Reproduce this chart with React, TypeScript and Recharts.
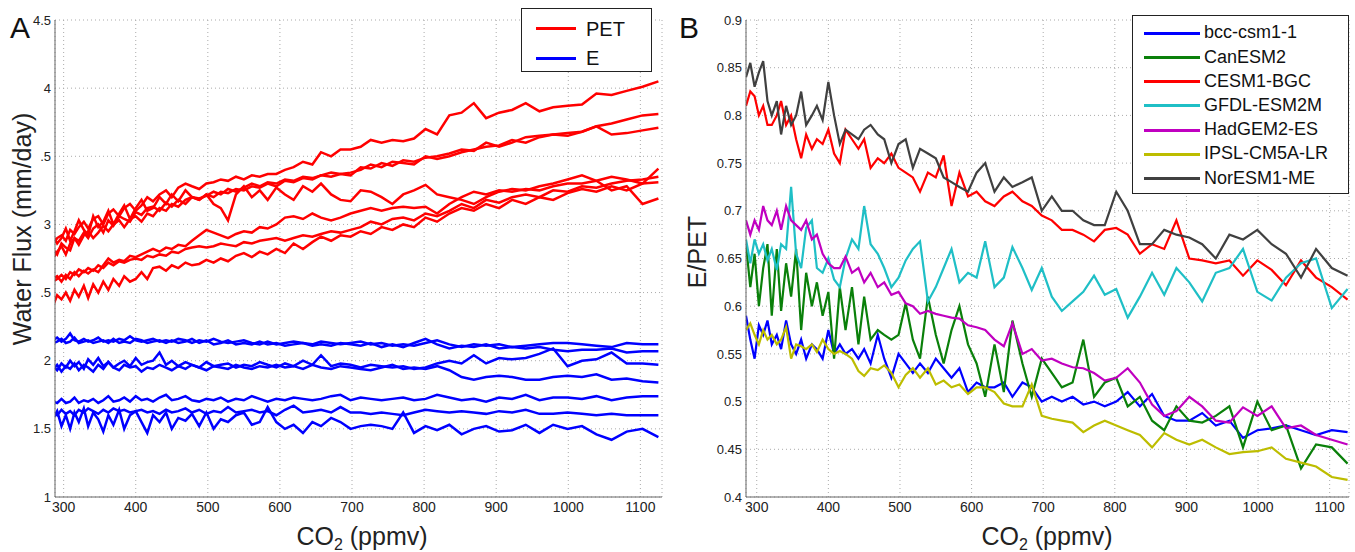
import React from 'react';
import { LineChart, Line, XAxis, YAxis, CartesianGrid } from 'recharts';

const FONT = '"Liberation Sans", Arial, Helvetica, sans-serif';

// CO2 concentration (ppmv) at every second year of the 1pctCO2 run
const co2Ppmv = [
  285, 291, 297, 303, 309, 315, 321, 328, 334, 341,
  348, 355, 362, 369, 377, 384, 392, 400, 408, 416,
  424, 433, 442, 450, 459, 469, 478, 488, 498, 508,
  518, 528, 539, 550, 561, 572, 583, 595, 607, 619,
  632, 645, 657, 671, 684, 698, 712, 726, 741, 756,
  771, 786, 802, 818, 835, 852, 869, 886, 904, 922,
  941, 960, 979, 999, 1019, 1039, 1060, 1081, 1103, 1125,
];

// Panel A: potential evapotranspiration, one array per model (mm/day)
const pet1 = [
  2.85, 2.90, 2.92, 2.88, 2.96, 2.93, 2.98, 3.02, 2.97, 3.04,
  3.06, 3.00, 3.08, 3.11, 3.06, 3.12, 3.15, 3.10, 3.14, 3.20,
  3.17, 3.22, 3.25, 3.20, 3.27, 3.30, 3.28, 3.26, 3.30, 3.31,
  3.33, 3.32, 3.35, 3.33, 3.36, 3.35, 3.37, 3.37, 3.40, 3.42,
  3.46, 3.44, 3.53, 3.50, 3.55, 3.55, 3.57, 3.62, 3.60, 3.62,
  3.61, 3.63, 3.70, 3.66, 3.80, 3.82, 3.89, 3.78, 3.82, 3.84,
  3.89, 3.83, 3.86, 3.87, 3.88, 3.96, 3.95, 3.98, 4.01, 4.05,
];
const pet2 = [
  2.75, 2.80, 2.84, 2.78, 2.86, 2.90, 2.85, 2.92, 2.95, 2.90,
  2.94, 2.99, 2.95, 3.00, 3.03, 2.98, 3.04, 3.06, 3.02, 3.08,
  3.06, 3.12, 3.10, 3.15, 3.13, 3.18, 3.20, 3.18, 3.22, 3.20,
  3.24, 3.23, 3.26, 3.25, 3.28, 3.27, 3.30, 3.28, 3.32, 3.31,
  3.34, 3.33, 3.36, 3.35, 3.37, 3.38, 3.40, 3.44, 3.42, 3.46,
  3.45, 3.44, 3.50, 3.48, 3.50, 3.53, 3.55, 3.57, 3.58, 3.62,
  3.60, 3.64, 3.66, 3.67, 3.68, 3.72, 3.74, 3.77, 3.80, 3.81,
];
const pet3 = [
  2.82, 2.78, 2.86, 2.83, 2.81, 2.90, 2.88, 2.94, 2.90, 2.97,
  3.00, 2.94, 3.03, 2.99, 3.06, 3.04, 3.02, 3.09, 3.07, 3.12,
  3.13, 3.10, 3.16, 3.13, 3.18, 3.15, 3.20, 3.19, 3.21, 3.24,
  3.22, 3.26, 3.24, 3.27, 3.30, 3.28, 3.31, 3.30, 3.33, 3.32,
  3.35, 3.34, 3.36, 3.38, 3.37, 3.36, 3.42, 3.41, 3.45, 3.43,
  3.47, 3.46, 3.49, 3.50, 3.52, 3.55, 3.54, 3.60, 3.57, 3.60,
  3.64, 3.65, 3.66, 3.65, 3.68, 3.72, 3.66, 3.67, 3.69, 3.71,
];
const pet4 = [
  2.92, 2.86, 2.90, 2.97, 2.88, 2.95, 3.03, 2.96, 2.92, 3.06,
  2.98, 3.02, 3.10, 3.00, 3.08, 3.14, 3.04, 3.12, 3.18, 3.10,
  3.12, 3.20, 3.15, 3.22, 3.17, 3.25, 3.20, 3.18, 3.22, 3.15,
  3.12, 3.03, 3.22, 3.28, 3.20, 3.25, 3.18, 3.27, 3.22, 3.18,
  3.28, 3.24, 3.30, 3.22, 3.18, 3.17, 3.25, 3.24, 3.20, 3.15,
  3.22, 3.25, 3.29, 3.22, 3.20, 3.18, 3.15, 3.20, 3.24, 3.26,
  3.25, 3.28, 3.30, 3.33, 3.36, 3.32, 3.25, 3.28, 3.15, 3.19,
];
const pet5 = [
  2.60, 2.62, 2.58, 2.63, 2.60, 2.65, 2.62, 2.66, 2.64, 2.67,
  2.65, 2.70, 2.75, 2.72, 2.74, 2.73, 2.77, 2.76, 2.78, 2.80,
  2.82, 2.80, 2.83, 2.82, 2.85, 2.84, 2.88, 2.92, 2.96, 2.94,
  2.92, 2.90, 2.93, 2.95, 2.94, 2.98, 2.97, 3.00, 3.05, 3.06,
  3.04, 3.08, 3.05, 3.03, 3.05, 3.08, 3.10, 3.12, 3.10, 3.12,
  3.13, 3.12, 3.13, 3.08, 3.15, 3.20, 3.24, 3.22, 3.25, 3.24,
  3.26, 3.25, 3.28, 3.30, 3.30, 3.32, 3.35, 3.33, 3.30, 3.41,
];
const pet6 = [
  2.58, 2.60, 2.63, 2.60, 2.65, 2.63, 2.67, 2.65, 2.68, 2.66,
  2.70, 2.68, 2.72, 2.70, 2.73, 2.72, 2.74, 2.75, 2.74, 2.77,
  2.76, 2.78, 2.77, 2.80, 2.79, 2.82, 2.83, 2.84, 2.83, 2.84,
  2.86, 2.85, 2.84, 2.87, 2.86, 2.88, 2.89, 2.90, 2.88, 2.90,
  2.92, 2.91, 2.93, 2.95, 2.94, 2.96, 2.98, 3.02, 3.00, 3.04,
  3.05, 3.03, 3.08, 3.06, 3.10, 3.15, 3.12, 3.18, 3.16, 3.20,
  3.22, 3.20, 3.25, 3.24, 3.28, 3.27, 3.30, 3.32, 3.33, 3.35,
];
const pet7 = [
  2.40, 2.48, 2.45, 2.50, 2.44, 2.52, 2.47, 2.55, 2.46, 2.56,
  2.50, 2.58, 2.52, 2.60, 2.55, 2.62, 2.58, 2.60, 2.65, 2.60,
  2.68, 2.69, 2.66, 2.70, 2.68, 2.72, 2.70, 2.71, 2.74, 2.72,
  2.75, 2.73, 2.77, 2.79, 2.76, 2.80, 2.78, 2.82, 2.79, 2.86,
  2.82, 2.87, 2.91, 2.88, 2.92, 2.91, 2.95, 2.93, 2.98, 2.96,
  3.00, 2.98, 3.05, 3.02, 3.08, 3.12, 3.10, 3.15, 3.12, 3.18,
  3.15, 3.20, 3.18, 3.23, 3.26, 3.24, 3.28, 3.25, 3.30, 3.31,
];

// Panel A: evapotranspiration, one array per model (mm/day)
const evap1 = [
  2.15, 2.17, 2.14, 2.16, 2.20, 2.15, 2.14, 2.16, 2.14, 2.15,
  2.17, 2.14, 2.15, 2.14, 2.16, 2.15, 2.18, 2.15, 2.14, 2.15,
  2.16, 2.14, 2.15, 2.14, 2.16, 2.15, 2.13, 2.15, 2.14, 2.16,
  2.14, 2.13, 2.14, 2.15, 2.13, 2.12, 2.14, 2.12, 2.13, 2.14,
  2.13, 2.12, 2.14, 2.13, 2.12, 2.13, 2.14, 2.12, 2.13, 2.11,
  2.12, 2.11, 2.13, 2.15, 2.12, 2.10, 2.12, 2.11, 2.12, 2.10,
  2.11, 2.12, 2.13, 2.13, 2.12, 2.11, 2.10, 2.13, 2.12, 2.12,
];
const evap2 = [
  2.13, 2.14, 2.16, 2.13, 2.14, 2.17, 2.13, 2.14, 2.15, 2.13,
  2.14, 2.15, 2.13, 2.16, 2.13, 2.14, 2.13, 2.16, 2.15, 2.13,
  2.14, 2.15, 2.13, 2.15, 2.13, 2.14, 2.16, 2.13, 2.15, 2.12,
  2.13, 2.15, 2.12, 2.13, 2.12, 2.14, 2.12, 2.13, 2.11, 2.12,
  2.13, 2.11, 2.12, 2.11, 2.13, 2.12, 2.11, 2.13, 2.10, 2.12,
  2.10, 2.13, 2.16, 2.12, 2.09, 2.11, 2.10, 2.12, 2.09, 2.10,
  2.09, 2.10, 2.08, 2.07, 2.08, 2.08, 2.09, 2.06, 2.07, 2.07,
];
const evap3 = [
  1.96, 1.93, 1.98, 1.95, 2.00, 1.96, 1.99, 1.94, 2.01, 1.97,
  2.02, 1.96, 1.99, 1.95, 1.98, 2.00, 1.96, 2.02, 1.97, 1.99,
  2.00, 2.06, 1.97, 2.00, 1.96, 1.99, 1.97, 1.95, 1.99, 1.96,
  1.97, 1.98, 1.95, 1.97, 1.96, 1.99, 1.97, 1.95, 1.98, 1.96,
  2.00, 1.97, 2.04, 1.96, 1.98, 1.97, 1.95, 1.97, 1.96, 1.95,
  1.96, 1.94, 1.95, 1.98, 2.00, 1.98, 2.04, 1.98, 2.02, 2.01,
  2.02, 2.05, 2.09, 1.96, 2.00, 2.01, 2.06, 1.98, 1.98, 1.97,
];
const evap4 = [
  1.93, 1.97, 1.92, 1.96, 1.94, 1.98, 1.93, 1.97, 1.95, 1.92,
  1.97, 1.94, 1.99, 1.95, 1.93, 1.97, 1.95, 1.96, 1.92, 1.95,
  1.94, 1.97, 1.95, 1.93, 1.96, 1.94, 1.97, 1.95, 1.93, 1.96,
  1.95, 1.94, 1.97, 1.95, 1.94, 1.96, 1.95, 1.97, 1.95, 1.96,
  1.94, 1.97, 1.95, 1.94, 1.96, 1.95, 1.94, 1.93, 1.95, 1.97,
  1.94, 1.95, 1.94, 1.96, 1.93, 1.88, 1.86, 1.88, 1.89, 1.88,
  1.86, 1.86, 1.88, 1.89, 1.88, 1.90, 1.86, 1.87, 1.85, 1.84,
];
const evap5 = [
  1.70, 1.69, 1.72, 1.69, 1.70, 1.73, 1.69, 1.71, 1.70, 1.72,
  1.69, 1.71, 1.74, 1.70, 1.71, 1.73, 1.70, 1.74, 1.71, 1.72,
  1.70, 1.73, 1.75, 1.71, 1.72, 1.74, 1.71, 1.70, 1.72, 1.71,
  1.73, 1.70, 1.72, 1.71, 1.74, 1.72, 1.70, 1.72, 1.71, 1.73,
  1.72, 1.71, 1.72, 1.74, 1.75, 1.71, 1.73, 1.72, 1.71, 1.72,
  1.73, 1.71, 1.72, 1.75, 1.73, 1.71, 1.72, 1.70, 1.73, 1.72,
  1.75, 1.71, 1.73, 1.73, 1.72, 1.74, 1.71, 1.73, 1.74, 1.74,
];
const evap6 = [
  1.62, 1.60, 1.64, 1.61, 1.63, 1.60, 1.64, 1.62, 1.65, 1.63,
  1.61, 1.64, 1.62, 1.65, 1.63, 1.64, 1.62, 1.63, 1.64, 1.62,
  1.63, 1.61, 1.64, 1.62, 1.63, 1.65, 1.62, 1.64, 1.61, 1.63,
  1.62, 1.66, 1.62, 1.63, 1.64, 1.62, 1.63, 1.60, 1.64, 1.67,
  1.62, 1.63, 1.64, 1.62, 1.66, 1.62, 1.62, 1.61, 1.62, 1.61,
  1.60, 1.62, 1.64, 1.63, 1.62, 1.63, 1.62, 1.61, 1.63, 1.62,
  1.64, 1.61, 1.61, 1.62, 1.61, 1.60, 1.61, 1.60, 1.60, 1.60,
];
const evap7 = [
  1.57, 1.63, 1.52, 1.60, 1.50, 1.62, 1.55, 1.65, 1.52, 1.62,
  1.57, 1.48, 1.60, 1.53, 1.64, 1.50, 1.60, 1.63, 1.55, 1.47,
  1.60, 1.55, 1.62, 1.50, 1.58, 1.56, 1.61, 1.52, 1.62, 1.50,
  1.57, 1.55, 1.60, 1.62, 1.53, 1.55, 1.66, 1.55, 1.50, 1.53,
  1.47, 1.55, 1.52, 1.58, 1.55, 1.50, 1.52, 1.53, 1.52, 1.50,
  1.62, 1.47, 1.52, 1.49, 1.53, 1.46, 1.50, 1.52, 1.48, 1.49,
  1.53, 1.47, 1.53, 1.50, 1.52, 1.46, 1.42, 1.48, 1.50, 1.44,
];

// Panel B: E/PET ratio per model
const bccCsm1 = [
  0.590, 0.565, 0.545, 0.580, 0.570, 0.585, 0.560, 0.570, 0.555, 0.585,
  0.560, 0.550, 0.565, 0.545, 0.560, 0.555, 0.545, 0.575, 0.550, 0.560,
  0.550, 0.555, 0.545, 0.555, 0.540, 0.570, 0.545, 0.525, 0.550, 0.540,
  0.530, 0.540, 0.530, 0.545, 0.535, 0.525, 0.535, 0.510, 0.520, 0.515,
  0.515, 0.520, 0.505, 0.520, 0.515, 0.500, 0.505, 0.500, 0.505, 0.497,
  0.500, 0.495, 0.500, 0.510, 0.495, 0.508, 0.485, 0.480, 0.480, 0.488,
  0.475, 0.480, 0.462, 0.470, 0.472, 0.475, 0.470, 0.465, 0.470, 0.468,
];
const canEsm2 = [
  0.665, 0.620, 0.655, 0.600, 0.640, 0.665, 0.590, 0.660, 0.595, 0.645,
  0.610, 0.660, 0.575, 0.635, 0.600, 0.625, 0.590, 0.615, 0.545, 0.620,
  0.575, 0.620, 0.560, 0.610, 0.565, 0.575, 0.570, 0.565, 0.570, 0.603,
  0.565, 0.545, 0.610, 0.570, 0.540, 0.575, 0.600, 0.560, 0.540, 0.505,
  0.560, 0.510, 0.585, 0.540, 0.505, 0.545, 0.530, 0.515, 0.520, 0.565,
  0.505, 0.520, 0.525, 0.495, 0.505, 0.480, 0.470, 0.495, 0.480, 0.478,
  0.485, 0.495, 0.452, 0.500, 0.470, 0.475, 0.430, 0.455, 0.452, 0.435,
];
const cesm1Bgc = [
  0.810, 0.825, 0.820, 0.800, 0.810, 0.790, 0.790, 0.800, 0.815, 0.790,
  0.800, 0.775, 0.755, 0.780, 0.765, 0.775, 0.770, 0.785, 0.760, 0.750,
  0.785, 0.775, 0.765, 0.775, 0.745, 0.755, 0.750, 0.760, 0.745, 0.740,
  0.735, 0.720, 0.740, 0.735, 0.758, 0.705, 0.740, 0.715, 0.720, 0.710,
  0.705, 0.715, 0.720, 0.710, 0.705, 0.695, 0.690, 0.680, 0.680, 0.675,
  0.668, 0.680, 0.682, 0.675, 0.655, 0.665, 0.660, 0.690, 0.650, 0.648,
  0.645, 0.648, 0.632, 0.648, 0.638, 0.622, 0.648, 0.630, 0.620, 0.607,
];
const gfdlEsm2m = [
  0.670, 0.645, 0.670, 0.655, 0.665, 0.648, 0.660, 0.638, 0.665, 0.660,
  0.725, 0.655, 0.640, 0.682, 0.690, 0.640, 0.635, 0.650, 0.628, 0.620,
  0.650, 0.670, 0.660, 0.705, 0.665, 0.655, 0.640, 0.620, 0.630, 0.648,
  0.660, 0.668, 0.605, 0.620, 0.640, 0.660, 0.625, 0.635, 0.630, 0.668,
  0.620, 0.630, 0.662, 0.640, 0.617, 0.640, 0.610, 0.595, 0.605, 0.615,
  0.632, 0.612, 0.618, 0.588, 0.610, 0.635, 0.612, 0.640, 0.625, 0.605,
  0.635, 0.640, 0.660, 0.615, 0.606, 0.630, 0.645, 0.650, 0.598, 0.618,
];
const hadGem2Es = [
  0.690, 0.675, 0.690, 0.680, 0.705, 0.690, 0.685, 0.700, 0.680, 0.705,
  0.690, 0.685, 0.680, 0.690, 0.670, 0.675, 0.655, 0.645, 0.640, 0.640,
  0.652, 0.635, 0.640, 0.625, 0.635, 0.620, 0.625, 0.612, 0.615, 0.603,
  0.600, 0.592, 0.595, 0.592, 0.590, 0.588, 0.587, 0.580, 0.578, 0.575,
  0.565, 0.558, 0.582, 0.550, 0.555, 0.543, 0.545, 0.540, 0.536, 0.535,
  0.530, 0.522, 0.525, 0.535, 0.520, 0.497, 0.485, 0.490, 0.505, 0.495,
  0.480, 0.478, 0.494, 0.485, 0.495, 0.472, 0.475, 0.465, 0.460, 0.455,
];
const ipslCm5aLr = [
  0.575, 0.582, 0.570, 0.560, 0.575, 0.565, 0.570, 0.560, 0.565, 0.578,
  0.545, 0.560, 0.558, 0.555, 0.560, 0.552, 0.565, 0.555, 0.550, 0.553,
  0.550, 0.545, 0.532, 0.527, 0.535, 0.533, 0.538, 0.530, 0.515, 0.528,
  0.535, 0.525, 0.535, 0.518, 0.522, 0.515, 0.518, 0.508, 0.515, 0.515,
  0.510, 0.498, 0.495, 0.495, 0.518, 0.485, 0.482, 0.480, 0.478, 0.468,
  0.475, 0.480, 0.475, 0.470, 0.465, 0.452, 0.467, 0.460, 0.455, 0.460,
  0.452, 0.445, 0.447, 0.448, 0.452, 0.440, 0.436, 0.432, 0.421, 0.418,
];
const norEsm1Me = [
  0.840, 0.855, 0.830, 0.845, 0.857, 0.815, 0.800, 0.815, 0.780, 0.810,
  0.790, 0.800, 0.825, 0.790, 0.800, 0.810, 0.795, 0.835, 0.800, 0.770,
  0.785, 0.780, 0.775, 0.785, 0.790, 0.780, 0.775, 0.750, 0.770, 0.775,
  0.745, 0.765, 0.760, 0.755, 0.735, 0.730, 0.725, 0.720, 0.740, 0.750,
  0.720, 0.735, 0.725, 0.730, 0.735, 0.700, 0.715, 0.700, 0.700, 0.690,
  0.685, 0.685, 0.720, 0.700, 0.665, 0.665, 0.680, 0.675, 0.672, 0.665,
  0.650, 0.675, 0.670, 0.680, 0.665, 0.655, 0.630, 0.660, 0.640, 0.632,
];

const xTicks = [300, 400, 500, 600, 700, 800, 900, 1000, 1100];
const fluxTicks = [1, 1.5, 2, 2.5, 3, 3.5, 4, 4.5];
const ratioTicks = [0.4, 0.45, 0.5, 0.55, 0.6, 0.65, 0.7, 0.75, 0.8, 0.85, 0.9];

const petSeries = [pet1, pet2, pet3, pet4, pet5, pet6, pet7];
const evapSeries = [evap1, evap2, evap3, evap4, evap5, evap6, evap7];

const models = [
  { key: 'bcc', name: 'bcc-csm1-1', color: '#0000ff', values: bccCsm1 },
  { key: 'can', name: 'CanESM2', color: '#0a800a', values: canEsm2 },
  { key: 'cesm', name: 'CESM1-BGC', color: '#ff0000', values: cesm1Bgc },
  { key: 'gfdl', name: 'GFDL-ESM2M', color: '#1fbfc6', values: gfdlEsm2m },
  { key: 'had', name: 'HadGEM2-ES', color: '#c000c0', values: hadGem2Es },
  { key: 'ipsl', name: 'IPSL-CM5A-LR', color: '#bdbd00', values: ipslCm5aLr },
  { key: 'nor', name: 'NorESM1-ME', color: '#404040', values: norEsm1Me },
];

const fluxRows = co2Ppmv.map((c, i) => {
  const row: Record<string, number> = { co2: c };
  petSeries.forEach((s, k) => (row['pet' + k] = s[i]));
  evapSeries.forEach((s, k) => (row['e' + k] = s[i]));
  return row;
});

const ratioRows = co2Ppmv.map((c, i) => {
  const row: Record<string, number> = { co2: c };
  models.forEach((m) => (row[m.key] = m.values[i]));
  return row;
});

const tickStyle = { fontSize: 14, fill: '#222', fontFamily: FONT };
const yTickStyle = { fontSize: 13, fill: '#222', fontFamily: FONT };
const axisLine = { stroke: '#666', strokeWidth: 1 };

// MATLAB cut the tick labels under the y title, keep that look
const fluxTickLabel = (v: number) => (v === 3.5 || v === 2.5 ? '.5' : String(v));

const abs = (left: number, top: number, extra: React.CSSProperties = {}): React.CSSProperties => ({
  position: 'absolute',
  left,
  top,
  ...extra,
});

const Co2Title = ({ cx }: { cx: number }) => (
  <div style={abs(cx, 524, { transform: 'translateX(-50%)', fontSize: 25, color: '#222', whiteSpace: 'nowrap', lineHeight: 1 })}>
    CO<sub style={{ fontSize: 16, verticalAlign: 'baseline', position: 'relative', top: 5 }}>2</sub> (ppmv)
  </div>
);

const LegendSwatch = ({ color, width }: { color: string; width: number }) => (
  <span style={{ display: 'inline-block', width, height: 3, background: color, verticalAlign: 'middle' }} />
);

export default function App() {
  return (
    <div style={abs(0, 0, { width: 1355, height: 552, background: '#fff', fontFamily: FONT, overflow: 'hidden' })}>
      {/* Panel A */}
      <div style={abs(0, 0)}>
        <LineChart width={680} height={552} data={fluxRows} margin={{ top: 20, right: 18, bottom: 0, left: 0 }}>
          <CartesianGrid strokeDasharray="1 3" stroke="#aaa" />
          <XAxis
            type="number"
            dataKey="co2"
            domain={[288, 1130]}
            ticks={xTicks}
            allowDataOverflow
            height={55}
            tickSize={0}
            tickMargin={5}
            tick={tickStyle}
            axisLine={axisLine}
          />
          <YAxis
            type="number"
            domain={[1, 4.5]}
            ticks={fluxTicks}
            allowDataOverflow
            width={55}
            tickSize={0}
            tickMargin={4}
            tick={yTickStyle}
            tickFormatter={fluxTickLabel}
            axisLine={axisLine}
          />
          {petSeries.map((_, k) => (
            <Line key={'pet' + k} dataKey={'pet' + k} stroke="#ff0000" strokeWidth={2.5} dot={false} isAnimationActive={false} />
          ))}
          {evapSeries.map((_, k) => (
            <Line key={'e' + k} dataKey={'e' + k} stroke="#0000ff" strokeWidth={2.5} dot={false} isAnimationActive={false} />
          ))}
        </LineChart>
      </div>

      {/* Panel B */}
      <div style={abs(680, 0)}>
        <LineChart width={675} height={552} data={ratioRows} margin={{ top: 20, right: 6, bottom: 0, left: 0 }}>
          <CartesianGrid strokeDasharray="1 3" stroke="#aaa" />
          <XAxis
            type="number"
            dataKey="co2"
            domain={[285, 1127]}
            ticks={xTicks}
            allowDataOverflow
            height={55}
            tickSize={0}
            tickMargin={5}
            tick={tickStyle}
            axisLine={axisLine}
          />
          <YAxis
            type="number"
            domain={[0.4, 0.9]}
            ticks={ratioTicks}
            allowDataOverflow
            width={66}
            tickSize={0}
            tickMargin={4}
            tick={yTickStyle}
            axisLine={axisLine}
          />
          {models.map((m) => (
            <Line key={m.key} dataKey={m.key} stroke={m.color} strokeWidth={2.2} dot={false} isAnimationActive={false} />
          ))}
        </LineChart>
      </div>

      {/* panel letters and axis titles */}
      <div style={abs(10, 13, { fontSize: 30, lineHeight: 1, color: '#111' })}>A</div>
      <div style={abs(679, 13, { fontSize: 30, lineHeight: 1, color: '#111' })}>B</div>
      <div
        style={abs(22, 229, {
          transform: 'translate(-50%, -50%) rotate(-90deg)',
          fontSize: 25,
          color: '#222',
          whiteSpace: 'nowrap',
          lineHeight: 1,
        })}
      >
        Water Flux (mm/day)
      </div>
      <div
        style={abs(697, 252, {
          transform: 'translate(-50%, -50%) rotate(-90deg)',
          fontSize: 25,
          color: '#222',
          whiteSpace: 'nowrap',
          lineHeight: 1,
        })}
      >
        E/PET
      </div>
      <Co2Title cx={362} />
      <Co2Title cx={1047} />

      {/* legend A */}
      <div
        style={abs(521, 8, {
          width: 131,
          height: 64,
          boxSizing: 'border-box',
          border: '1.5px solid #222',
          background: '#fff',
          padding: '4px 0 0 14px',
          fontSize: 20,
          color: '#111',
          lineHeight: '28px',
        })}
      >
        <div>
          <LegendSwatch color="#ff0000" width={40} />
          <span style={{ marginLeft: 10, verticalAlign: 'middle' }}>PET</span>
        </div>
        <div>
          <LegendSwatch color="#0000ff" width={40} />
          <span style={{ marginLeft: 10, verticalAlign: 'middle' }}>E</span>
        </div>
      </div>

      {/* legend B */}
      <div
        style={abs(1132, 15, {
          width: 217,
          height: 179,
          boxSizing: 'border-box',
          border: '1.5px solid #222',
          background: '#fff',
          padding: '5px 0 0 11px',
          fontSize: 18,
          color: '#111',
          lineHeight: '23.9px',
        })}
      >
        {models.map((m) => (
          <div key={m.key} style={{ whiteSpace: 'nowrap' }}>
            <LegendSwatch color={m.color} width={56} />
            <span style={{ marginLeft: 4, verticalAlign: 'middle' }}>{m.name}</span>
          </div>
        ))}
      </div>
    </div>
  );
}
